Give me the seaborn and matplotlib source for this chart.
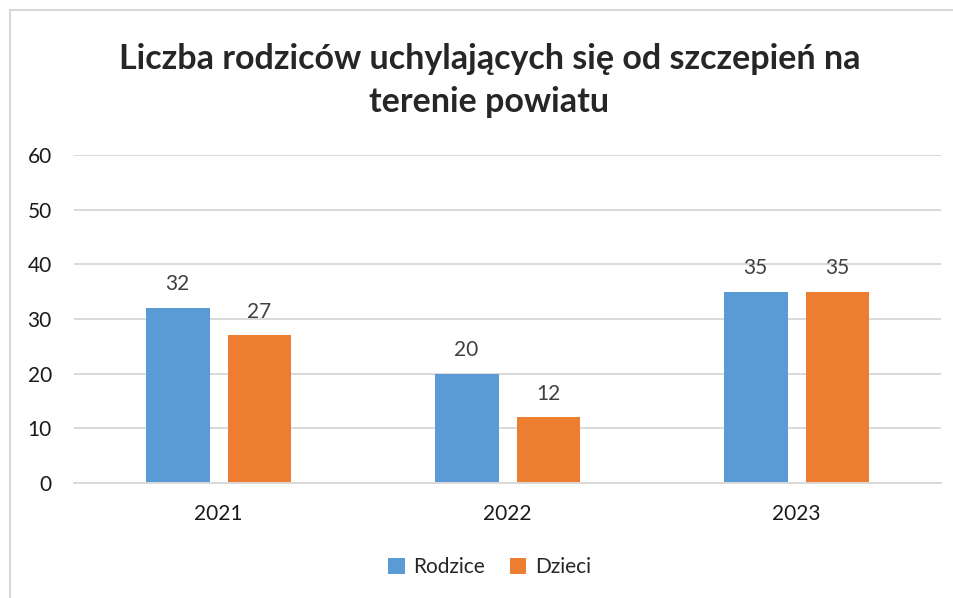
import pandas as pd
import matplotlib.pyplot as plt
import seaborn as sns
from matplotlib.patches import Rectangle

# dane
lata = ['2021', '2022', '2023']
rodzice = [32, 20, 35]
dzieci = [27, 12, 35]
serie = ['Rodzice', 'Dzieci']

df = pd.DataFrame({
    'rok': lata * 2,
    'liczba': rodzice + dzieci,
    'grupa': [serie[0]] * 3 + [serie[1]] * 3,
})

sns.set_style("white")
plt.rcParams['font.family'] = ['Lato', 'DejaVu Sans']

fig = plt.figure(figsize=(9.54, 5.98), dpi=100)
ax = fig.add_axes([0.0776, 0.1923, 0.9088, 0.5485])

sns.barplot(data=df, x='rok', y='liczba', hue='grupa',
            palette=['#5B9BD5', '#ED7D31'], saturation=1,
            width=0.567, gap=0.22, linewidth=0, ax=ax, legend=True)

ax.set_ylim(0, 60)
ax.set_yticks(range(0, 61, 10))
ax.grid(axis='y', color='#D9D9D9', linewidth=1.4)
ax.set_axisbelow(True)
for s in ['top', 'right', 'left']:
    ax.spines[s].set_visible(False)
ax.spines['bottom'].set_color('#D9D9D9')
ax.spines['bottom'].set_linewidth(1.4)
ax.tick_params(axis='y', length=0, pad=16, labelsize=15, labelcolor='#1a1a1a')
ax.tick_params(axis='x', length=0, pad=15, labelsize=15, labelcolor='#1a1a1a')
ax.set_xlabel('')
ax.set_ylabel('')

for c in ax.containers:
    ax.bar_label(c, padding=10, fontsize=15, color='#404040')

fig.suptitle('Liczba rodziców uchylających się od szczepień na\nterenie powiatu',
             x=0.513, y=0.928, fontsize=24.5, fontweight='bold', linespacing=1.42)

handles, labels = ax.get_legend_handles_labels()
ax.get_legend().remove()
fig.legend(handles, labels, loc='center', bbox_to_anchor=(0.513, 0.052), ncol=2,
           frameon=False, fontsize=15, handlelength=0.8, handleheight=0.8,
           handletextpad=0.4, columnspacing=1.2)

# ramka wykresu
fig.patches.append(Rectangle((10 / 954, -0.1), 1.2, 1 - 10 / 598 + 0.1,
                             transform=fig.transFigure, fill=False,
                             edgecolor='#D9D9D9', linewidth=1.5))

fig.savefig('out.png', dpi=100)
